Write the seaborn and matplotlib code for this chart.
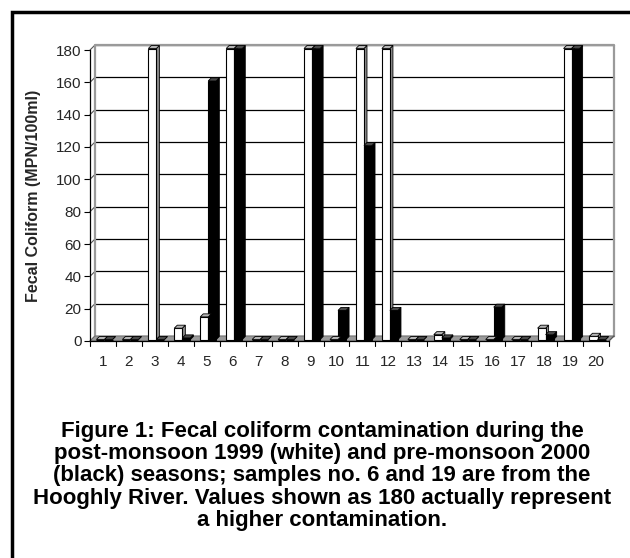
import numpy as np
import pandas as pd
import matplotlib
matplotlib.use("Agg")
import matplotlib.pyplot as plt
import matplotlib.patches as mpatches
import seaborn as sns

samples = [str(i) for i in range(1, 21)]
post_monsoon_1999 = [0, 0, 180, 7, 14, 180, 0, 0, 180, 0, 180, 180, 0, 3, 0, 0, 0, 7, 180, 2]
pre_monsoon_2000 = [0, 0, 0, 1, 160, 180, 0, 0, 180, 18, 120, 18, 0, 1, 0, 20, 0, 3, 180, 0]
yticks = list(range(0, 181, 20))
caption = ("Figure 1: Fecal coliform contamination during the\n"
           "post-monsoon 1999 (white) and pre-monsoon 2000\n"
           "(black) seasons; samples no. 6 and 19 are from the\n"
           "Hooghly River. Values shown as 180 actually represent\n"
           "a higher contamination.")

df = pd.DataFrame({
    "Sample": samples * 2,
    "Value": post_monsoon_1999 + pre_monsoon_2000,
    "Season": ["post"] * 20 + ["pre"] * 20,
})

sns.set_style("white")
plt.rcParams["font.family"] = ["Liberation Sans", "DejaVu Sans"]

W, H = 630, 558
fig = plt.figure(figsize=(W / 100, H / 100), dpi=100)
L, R, B, T = 90, 609, 341, 50
ax = fig.add_axes([L / W, 1 - B / H, (R - L) / W, (B - T) / H])

sns.barplot(data=df, x="Sample", y="Value", hue="Season", order=samples,
            palette={"post": "white", "pre": "black"}, width=0.62,
            edgecolor="black", linewidth=0.8, ax=ax, legend=False, zorder=3)

ax.set_xlim(-0.5, 19.5)
ax.set_ylim(0, 180)
px_x = 20 / (R - L)
px_y = 180 / (B - T)
# back wall offset
bx, by = 5 * px_x, 5 * px_y
# bar placement offset and depth
ox, oy = 1.5 * px_x, 1.5 * px_y
dx, dy = 3.0 * px_x, 3.0 * px_y

# floor
floor = mpatches.Polygon([(-0.5, 0), (-0.5 + bx, by), (19.5 + bx, by), (19.5, 0)],
                         closed=True, facecolor="#9a9a9a", edgecolor="#666666",
                         linewidth=0.6, zorder=1.5, clip_on=False)
ax.add_patch(floor)

# back wall gridlines and left-wall connectors
for v in yticks:
    ax.plot([-0.5 + bx, 19.5 + bx], [v + by, v + by], color="black", linewidth=0.9,
            zorder=1, clip_on=False)
    ax.plot([-0.5, -0.5 + bx], [v, v + by], color="#555555", linewidth=0.8,
            zorder=1, clip_on=False)
# back wall border
ax.plot([-0.5 + bx, -0.5 + bx, 19.5 + bx, 19.5 + bx],
        [by, 180 + by, 180 + by, by], color="#9a9a9a", linewidth=1.6,
        zorder=1.2, clip_on=False)
ax.plot([19.5, 19.5 + bx], [0, by], color="#555555", linewidth=0.8, zorder=1.6, clip_on=False)

for p in list(ax.patches):
    if not isinstance(p, mpatches.Rectangle):
        continue
    fc = p.get_facecolor()
    is_white = fc[0] > 0.5
    p.set_x(p.get_x() + ox)
    p.set_y(p.get_y() + oy)
    p.set_clip_on(False)
    x0 = p.get_x()
    w = p.get_width()
    h = p.get_height()
    y0 = p.get_y()
    x1 = x0 + w
    side_c = "#8c8c8c" if is_white else "black"
    top_c = "#b5b5b5" if is_white else "#4a4a4a"
    side = mpatches.Polygon([(x1, y0), (x1 + dx, y0 + dy), (x1 + dx, y0 + h + dy), (x1, y0 + h)],
                            closed=True, facecolor=side_c, edgecolor="black",
                            linewidth=0.6, zorder=2.9, clip_on=False)
    top = mpatches.Polygon([(x0, y0 + h), (x0 + dx, y0 + h + dy), (x1 + dx, y0 + h + dy), (x1, y0 + h)],
                           closed=True, facecolor=top_c, edgecolor="black",
                           linewidth=0.6, zorder=3.1, clip_on=False)
    ax.add_patch(side)
    ax.add_patch(top)

ax.set_yticks(yticks)
ax.set_yticklabels([str(v) for v in yticks], fontsize=11)
ax.tick_params(axis="y", length=4, width=0.8, color="black", pad=2, direction="out", left=True)
ax.tick_params(axis="x", length=0, pad=10, labelsize=11)
ax.grid(False)
for s in ["top", "right"]:
    ax.spines[s].set_visible(False)
ax.spines["left"].set_color("black")
ax.spines["left"].set_linewidth(0.9)
ax.spines["bottom"].set_color("black")
ax.spines["bottom"].set_linewidth(0.9)
ax.spines["left"].set_zorder(5)
ax.spines["bottom"].set_zorder(5)

# category separator ticks on x axis
for i in range(21):
    ax.plot([i - 0.5, i - 0.5], [0, -4.5 * px_y], color="black", linewidth=0.8,
            clip_on=False, zorder=4)

ax.set_xlabel("")
ax.set_ylabel("Fecal Coliform (MPN/100ml)", fontsize=11.5, fontweight="bold", labelpad=11)

fig.text(322 / W, 1 - 476 / H, caption, ha="center", va="center", fontsize=16,
         fontweight="bold", linespacing=1.08, color="black")

frame = mpatches.Rectangle((12 / W, -0.1), 1.2, 1 - 12 / H + 0.1, transform=fig.transFigure,
                           fill=False, edgecolor="black", linewidth=2.5)
fig.patches.append(frame)

fig.savefig("out.png", dpi=100)
